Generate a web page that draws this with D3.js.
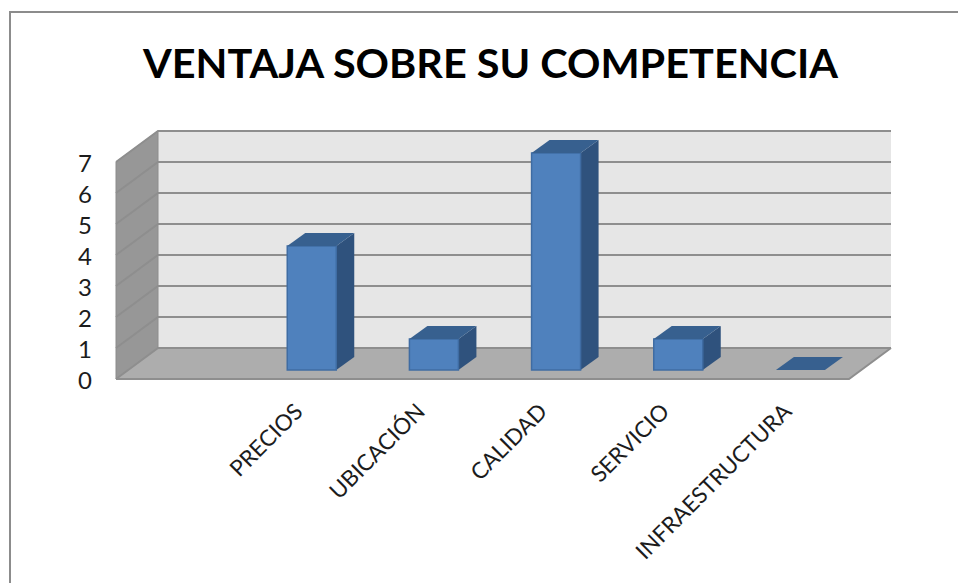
<!DOCTYPE html>
<html><head><meta charset="utf-8">
<script src="https://cdnjs.cloudflare.com/ajax/libs/d3/7.8.5/d3.min.js"></script>
<style>html,body{margin:0;padding:0;background:#fff}svg{display:block}text{font-family:Lato,"Open Sans",sans-serif;fill:#000}.lbl{fill:#1c1c1c}</style>
</head><body><svg id="c" width="958" height="583"></svg>
<script>
const titleText = "VENTAJA SOBRE SU COMPETENCIA";
const categories = ["", "PRECIOS", "UBICACIÓN", "CALIDAD", "SERVICIO", "INFRAESTRUCTURA"];
const values = [null, 4, 1, 7, 1, 0];
const yTicks = [0, 1, 2, 3, 4, 5, 6, 7];

const svg = d3.select("#c");
const depth = {x: 42, y: -31}, barDepth = {x: 18, y: -13}, barInset = {x: 13, y: -9};
const x = d3.scaleBand().domain(d3.range(categories.length)).range([116, 849]);
const y = d3.scaleLinear().domain([0, 7]).range([379, 162]);
const barW = 49;
const poly = p => p.map(d => d.join(",")).join(" ");

// frame
svg.append("path").attr("d", "M10,583V12H958").attr("fill", "none").attr("stroke", "#8c8c8c").attr("stroke-width", 2);

// title
svg.append("text").attr("x", 490.5).attr("y", 78).attr("text-anchor", "middle")
  .attr("font-size", 40).attr("font-weight", 700).attr("textLength", 695).attr("lengthAdjust", "spacingAndGlyphs").text(titleText);

const x0 = x.range()[0], x1 = x.range()[1], y0 = y(0), yT = y(7);
// back wall
svg.append("polygon").attr("points", poly([[x0+depth.x,yT+depth.y],[x1+depth.x,yT+depth.y],[x1+depth.x,y0+depth.y],[x0+depth.x,y0+depth.y]])).attr("fill", "#e6e6e6");
// side wall
svg.append("polygon").attr("points", poly([[x0,yT],[x0+depth.x,yT+depth.y],[x0+depth.x,y0+depth.y],[x0,y0]])).attr("fill", "#979797").attr("stroke", "#8c8c8c").attr("stroke-width", 1);
// floor
svg.append("polygon").attr("points", poly([[x0,y0],[x0+depth.x,y0+depth.y],[x1+depth.x,y0+depth.y],[x1,y0]])).attr("fill", "#adadad");

// gridlines
const grid = svg.append("g").attr("fill", "none").attr("stroke", "#8e8e8e").attr("stroke-width", 2);
yTicks.forEach(t => {
  grid.append("path").attr("d", d3.line()([[x0,y(t)],[x0+depth.x,y(t)+depth.y],[x1+depth.x,y(t)+depth.y]]));
});
grid.append("path").attr("d", d3.line()([[x0,y0],[x1,y0],[x1+depth.x,y0+depth.y]]));

// bars
values.forEach((v, i) => {
  if (v === null) return;
  const l = x(i) + x.bandwidth()/2 - 25 + barInset.x, r = l + barW;
  const b = y0 + barInset.y, t = y(v) + barInset.y;
  const g = svg.append("g");
  if (v > 0) {
    g.append("polygon").attr("points", poly([[r,b],[r+barDepth.x,b+barDepth.y],[r+barDepth.x,t+barDepth.y],[r,t]])).attr("fill", "#2f527d");
    g.append("rect").attr("x", l).attr("y", t).attr("width", barW).attr("height", b - t).attr("fill", "#4f81bd").attr("stroke", "#3f6ca3").attr("stroke-width", 1.5);
  }
  g.append("polygon").attr("points", poly([[l,t],[l+barDepth.x,t+barDepth.y],[r+barDepth.x,t+barDepth.y],[r,t]])).attr("fill", "#37608f");
});

// y labels
yTicks.forEach(t => {
  svg.append("text").attr("class", "lbl").attr("x", 85).attr("y", y(t)+0.5).attr("text-anchor", "middle").attr("dominant-baseline", "central").attr("font-size", 24).text(t);
});
// x labels
categories.forEach((c, i) => {
  if (!c) return;
  const px = x(i) + x.bandwidth()/2 - 1, py = 407;
  svg.append("text").attr("class", "lbl").attr("transform", `translate(${px},${py}) rotate(-45)`).attr("text-anchor", "end").attr("dominant-baseline", "central").attr("font-size", 22.5).text(c);
});
</script></body></html>
